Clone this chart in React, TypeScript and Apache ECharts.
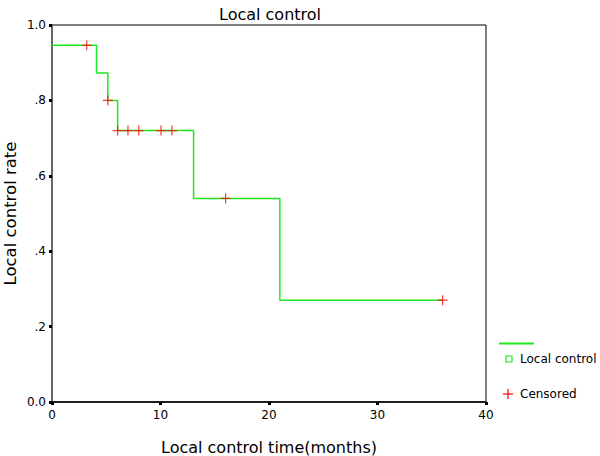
import React, { useEffect, useRef } from "react";
import * as echarts from "echarts";

// Kaplan-Meier steps: time (months) where the curve drops, and the new level
const stepTimes = [0, 4.1, 5.15, 6.05, 13.05, 21.0, 36.0];
const stepValues = [0.946, 0.873, 0.8, 0.72, 0.54, 0.27, 0.27];
// Censored observations
const censorTimes = [3.2, 5.15, 6.05, 7.0, 8.0, 10.05, 11.05, 16.0, 36.0];
const censorValues = [0.946, 0.8, 0.72, 0.72, 0.72, 0.72, 0.72, 0.54, 0.27];

const xTicks = [0, 10, 20, 30, 40];
const yTickLabels: Record<string, string> = { "0": "0.0", "0.2": ".2", "0.4": ".4", "0.6": ".6", "0.8": ".8", "1": "1.0" };

const FONT = "DejaVu Sans";

export default function App() {
  const ref = useRef<HTMLDivElement>(null);
  useEffect(() => {
    if (!ref.current) return;
    const chart = echarts.init(ref.current, undefined, { renderer: "svg" });
    const green = "#1ee81e";
    chart.setOption({
      animation: false,
      backgroundColor: "#ffffff",
      textStyle: { fontFamily: FONT },
      title: {
        text: "Local control",
        left: 214,
        top: 1,
        textStyle: { fontFamily: FONT, fontSize: 16, fontWeight: "normal", color: "#000" },
      },
      grid: {
        left: 52,
        top: 25,
        width: 434,
        height: 377,
        containLabel: false,
        outerBoundsMode: "none",
        show: true,
        borderColor: "#000",
        borderWidth: 1,
        backgroundColor: "transparent",
      },
      xAxis: {
        type: "value",
        min: xTicks[0],
        max: xTicks[xTicks.length - 1],
        interval: 10,
        name: "Local control time(months)",
        nameLocation: "middle",
        nameMoveOverlap: false,
        nameGap: 37,
        nameTextStyle: { fontFamily: FONT, fontSize: 16, color: "#000" },
        axisLine: { show: true, lineStyle: { color: "#000", width: 1.5 } },
        axisTick: { show: true, length: 3, lineStyle: { color: "#000", width: 3 } },
        axisLabel: { fontFamily: FONT, fontSize: 12, color: "#000", margin: 7 },
        splitLine: { show: false },
      },
      yAxis: {
        type: "value",
        min: 0,
        max: 1,
        interval: 0.2,
        name: "Local control rate",
        nameLocation: "middle",
        nameMoveOverlap: false,
        nameGap: 33,
        nameTextStyle: { fontFamily: FONT, fontSize: 16.5, color: "#000" },
        axisLine: { show: true, lineStyle: { color: "#666", width: 2 } },
        axisTick: { show: true, length: 3, lineStyle: { color: "#000", width: 3 } },
        axisLabel: {
          fontFamily: FONT,
          fontSize: 12,
          color: "#000",
          margin: 6,
          formatter: (v: number) => yTickLabels[String(Math.round(v * 10) / 10)] ?? String(v),
        },
        splitLine: { show: false },
      },
      series: [
        {
          name: "Local control",
          type: "line",
          step: "end",
          data: stepTimes.map((t, i) => [t, stepValues[i]]),
          showSymbol: false,
          lineStyle: { color: green, width: 1.5 },
          z: 2,
        },
        {
          name: "Censored",
          type: "scatter",
          data: censorTimes.map((t, i) => [t, censorValues[i]]),
          symbol: "path://M0,5L10,5M5,0L5,10",
          symbolSize: 10,
          itemStyle: { color: "none", borderColor: "#ff0000", borderWidth: 1.2 },
          z: 3,
        },
      ],
      graphic: [
        { type: "line", shape: { x1: 499, y1: 343.5, x2: 534, y2: 343.5 }, style: { stroke: green, lineWidth: 2 } },
        { type: "rect", shape: { x: 506, y: 356, width: 6, height: 6 }, style: { fill: "none", stroke: green, lineWidth: 1.2 } },
        { type: "text", x: 520, y: 359, style: { text: "Local control", fontFamily: FONT, fontSize: 12, fill: "#000", verticalAlign: "middle" } },
        { type: "line", shape: { x1: 503, y1: 394, x2: 513, y2: 394 }, style: { stroke: "#ff0000", lineWidth: 1.2 } },
        { type: "line", shape: { x1: 508, y1: 389, x2: 508, y2: 399 }, style: { stroke: "#ff0000", lineWidth: 1.2 } },
        { type: "text", x: 520, y: 394, style: { text: "Censored", fontFamily: FONT, fontSize: 12, fill: "#000", verticalAlign: "middle" } },
      ],
    });
    return () => chart.dispose();
  }, []);
  return <div ref={ref} style={{ position: "fixed", left: 0, top: 0, width: 600, height: 456 }} />;
}
